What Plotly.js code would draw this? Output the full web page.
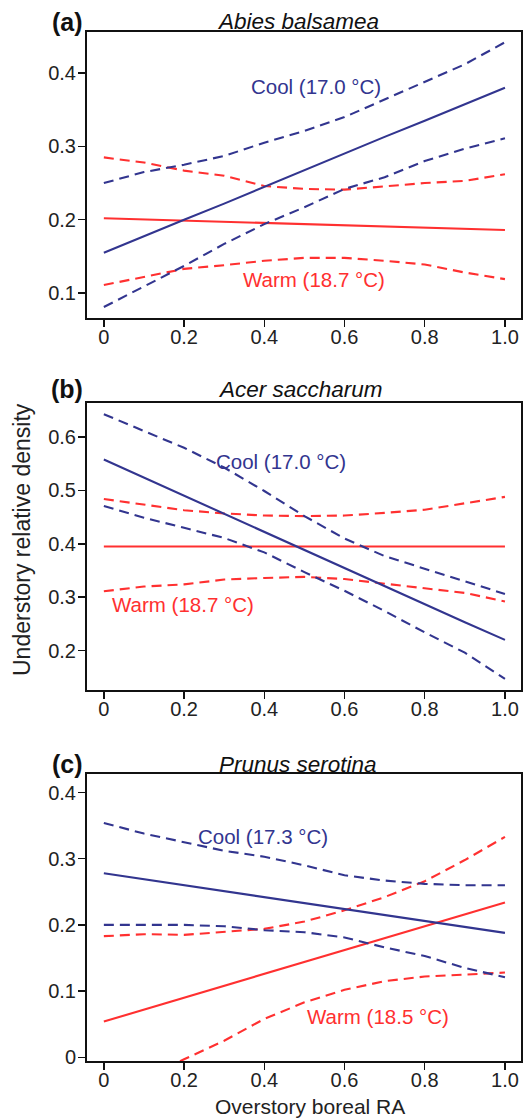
<!DOCTYPE html>
<html>
<head>
<meta charset="utf-8">
<script src="https://cdn.plot.ly/plotly-3.0.1.min.js"></script>
<style>html,body{margin:0;padding:0;background:#fff;}#chart{width:526px;height:1119px;}</style>
</head>
<body>
<div id="chart"></div>
<script>
// Shared x values (overstory boreal relative abundance)
const xs = [0, 0.1, 0.2, 0.3, 0.4, 0.5, 0.6, 0.7, 0.8, 0.9, 1.0];
const xTickVals = [0, 0.2, 0.4, 0.6, 0.8, 1.0];
const xTickText = ["0", "0.2", "0.4", "0.6", "0.8", "1.0"];

// (a) Abies balsamea
const aCoolFit   = [0.155, 0.178, 0.200, 0.222, 0.245, 0.268, 0.290, 0.313, 0.335, 0.358, 0.380];
const aCoolUpper = [0.250, 0.265, 0.275, 0.287, 0.305, 0.321, 0.340, 0.364, 0.387, 0.412, 0.442];
const aCoolLower = [0.081, 0.109, 0.137, 0.167, 0.194, 0.217, 0.242, 0.258, 0.280, 0.297, 0.311];
const aWarmFit   = [0.202, 0.2005, 0.199, 0.1975, 0.196, 0.194, 0.1925, 0.191, 0.189, 0.1875, 0.186];
const aWarmUpper = [0.285, 0.278, 0.267, 0.260, 0.246, 0.242, 0.241, 0.246, 0.250, 0.253, 0.262];
const aWarmLower = [0.111, 0.122, 0.133, 0.138, 0.144, 0.148, 0.148, 0.144, 0.139, 0.128, 0.119];
const aYTicks = [0.1, 0.2, 0.3, 0.4];

// (b) Acer saccharum
const bCoolFit   = [0.558, 0.524, 0.490, 0.456, 0.422, 0.389, 0.355, 0.321, 0.287, 0.253, 0.220];
const bCoolUpper = [0.643, 0.611, 0.580, 0.543, 0.499, 0.452, 0.410, 0.377, 0.353, 0.330, 0.306];
const bCoolLower = [0.471, 0.449, 0.430, 0.411, 0.384, 0.347, 0.312, 0.274, 0.234, 0.196, 0.147];
const bWarmFit   = [0.395, 0.395, 0.395, 0.395, 0.395, 0.395, 0.395, 0.395, 0.395, 0.395, 0.395];
const bWarmUpper = [0.484, 0.474, 0.463, 0.457, 0.453, 0.452, 0.453, 0.458, 0.464, 0.476, 0.488];
const bWarmLower = [0.311, 0.320, 0.324, 0.333, 0.336, 0.338, 0.334, 0.325, 0.316, 0.308, 0.292];
const bYTicks = [0.2, 0.3, 0.4, 0.5, 0.6];

// (c) Prunus serotina
const cCoolFit   = [0.278, 0.269, 0.260, 0.251, 0.242, 0.233, 0.224, 0.215, 0.206, 0.197, 0.188];
const cCoolUpper = [0.354, 0.338, 0.325, 0.312, 0.303, 0.290, 0.275, 0.267, 0.262, 0.260, 0.260];
const cCoolLower = [0.200, 0.200, 0.200, 0.198, 0.192, 0.189, 0.181, 0.166, 0.153, 0.135, 0.121];
const cWarmFit   = [0.054, 0.072, 0.090, 0.108, 0.126, 0.144, 0.162, 0.180, 0.198, 0.216, 0.234];
const cWarmUpper = [0.183, 0.186, 0.185, 0.190, 0.194, 0.205, 0.222, 0.242, 0.266, 0.298, 0.333];
const cWarmLowerX = [0.19, 0.2, 0.3, 0.4, 0.5, 0.6, 0.7, 0.8, 0.9, 1.0];
const cWarmLower  = [-0.006, -0.003, 0.025, 0.058, 0.083, 0.102, 0.115, 0.122, 0.125, 0.128];
const cYTicks = [0, 0.1, 0.2, 0.3, 0.4];

const panelLetters = ["(a)", "(b)", "(c)"];
const speciesNames = ["Abies balsamea", "Acer saccharum", "Prunus serotina"];
const coolLabels = ["Cool (17.0 °C)", "Cool (17.0 °C)", "Cool (17.3 °C)"];
const warmLabels = ["Warm (18.7 °C)", "Warm (18.7 °C)", "Warm (18.5 °C)"];

const BLUE = "#32358f";
const RED = "#ff3030";
const FONT = "Liberation Sans, Arial, Helvetica, sans-serif";
const DASH = "10px,6px";

function trace(x, y, color, dashed, axIdx) {
  const s = axIdx === 1 ? "" : String(axIdx);
  return {
    x: x, y: y, type: "scatter", mode: "lines",
    line: {color: color, width: 2.1, dash: dashed ? DASH : "solid"},
    xaxis: "x" + s, yaxis: "y" + s, hoverinfo: "skip", showlegend: false
  };
}

const data = [];
const panels = [
  [aCoolFit, aCoolUpper, aCoolLower, aWarmFit, aWarmUpper, aWarmLower, xs],
  [bCoolFit, bCoolUpper, bCoolLower, bWarmFit, bWarmUpper, bWarmLower, xs],
  [cCoolFit, cCoolUpper, cCoolLower, cWarmFit, cWarmUpper, cWarmLower, cWarmLowerX]
];
panels.forEach((p, i) => {
  const k = i + 1;
  data.push(trace(xs, p[4], RED, true, k));
  data.push(trace(p[6], p[5], RED, true, k));
  data.push(trace(xs, p[3], RED, false, k));
  data.push(trace(xs, p[1], BLUE, true, k));
  data.push(trace(xs, p[2], BLUE, true, k));
  data.push(trace(xs, p[0], BLUE, false, k));
});

// plot area geometry (paper coords)
const T = 32, B = 58, H = 1119, L = 87, R = 5;
const PH = H - T - B;        // 1029
const PW = 526 - L - R;      // 434
const py = pix => (H - B - pix) / PH;
const px = pix => (pix - L) / PW;

const domains = [[py(318), 1], [py(690), py(403)], [0, py(774)]];
const yRanges = [[0.066, 0.456], [0.126, 0.664], [-0.0056, 0.428]];
const yTicks = [aYTicks, bYTicks, cYTicks];

const layout = {
  width: 526, height: 1119,
  margin: {l: L, r: R, t: T, b: B},
  paper_bgcolor: "#fff", plot_bgcolor: "#fff",
  showlegend: false,
  font: {family: FONT, size: 20, color: "#222"},
  annotations: []
};

const axCommon = {
  showgrid: false, zeroline: false, showline: true, linecolor: "#111", linewidth: 2,
  mirror: true, ticks: "outside", ticklen: 7, tickwidth: 1.5, tickcolor: "#111",
  tickfont: {family: FONT, size: 20, color: "#222"}, fixedrange: true
};

for (let i = 0; i < 3; i++) {
  const s = i === 0 ? "" : String(i + 1);
  layout["xaxis" + s] = Object.assign({}, axCommon, {
    range: [-0.042, 1.04], domain: [0, 1], anchor: "y" + s,
    tickmode: "array", tickvals: xTickVals, ticktext: xTickText,
    ticklabelstandoff: -7
  });
  layout["yaxis" + s] = Object.assign({}, axCommon, {
    range: yRanges[i], domain: domains[i], anchor: "x" + s,
    tickmode: "array", tickvals: yTicks[i],
    ticktext: yTicks[i].map(v => v === 0 ? "0" : v.toFixed(1)),
    ticklabelstandoff: -2
  });
}

// panel letters and species titles
const titleY = [22, 389, 764];
const titleX = [298, 300, 298];
for (let i = 0; i < 3; i++) {
  layout.annotations.push({
    xref: "paper", yref: "paper", x: px(67), y: py(titleY[i]),
    xanchor: "center", yanchor: "middle", showarrow: false,
    text: "<b>" + panelLetters[i] + "</b>", font: {family: FONT, size: 25, color: "#111"}
  });
  layout.annotations.push({
    xref: "paper", yref: "paper", x: px(titleX[i]), y: py(titleY[i]),
    xanchor: "center", yanchor: "middle", showarrow: false,
    text: "<i>" + speciesNames[i] + "</i>", font: {family: FONT, size: 22.5, color: "#111"}
  });
}

// in-plot labels
const coolPos = [[0.528, 0.382], [0.442, 0.555], [0.398, 0.334]];
const warmPos = [[0.523, 0.119], [0.198, 0.286], [0.684, 0.062]];
for (let i = 0; i < 3; i++) {
  const s = i === 0 ? "" : String(i + 1);
  layout.annotations.push({
    xref: "x" + s, yref: "y" + s, x: coolPos[i][0], y: coolPos[i][1],
    xanchor: "center", yanchor: "middle", showarrow: false,
    text: coolLabels[i], font: {family: FONT, size: 20.5, color: BLUE}
  });
  layout.annotations.push({
    xref: "x" + s, yref: "y" + s, x: warmPos[i][0], y: warmPos[i][1],
    xanchor: "center", yanchor: "middle", showarrow: false,
    text: warmLabels[i], font: {family: FONT, size: 20.5, color: RED}
  });
}

// axis titles
layout.annotations.push({
  xref: "paper", yref: "paper", x: px(22), y: py(540),
  xanchor: "center", yanchor: "middle", showarrow: false, textangle: -90,
  text: "Understory relative density", font: {family: FONT, size: 23, color: "#222"}
});
layout.annotations.push({
  xref: "paper", yref: "paper", x: px(310), y: py(1106),
  xanchor: "center", yanchor: "middle", showarrow: false,
  text: "Overstory boreal RA", font: {family: FONT, size: 21, color: "#222"}
});

Plotly.newPlot("chart", data, layout, {displayModeBar: false, staticPlot: true});
</script>
</body>
</html>
